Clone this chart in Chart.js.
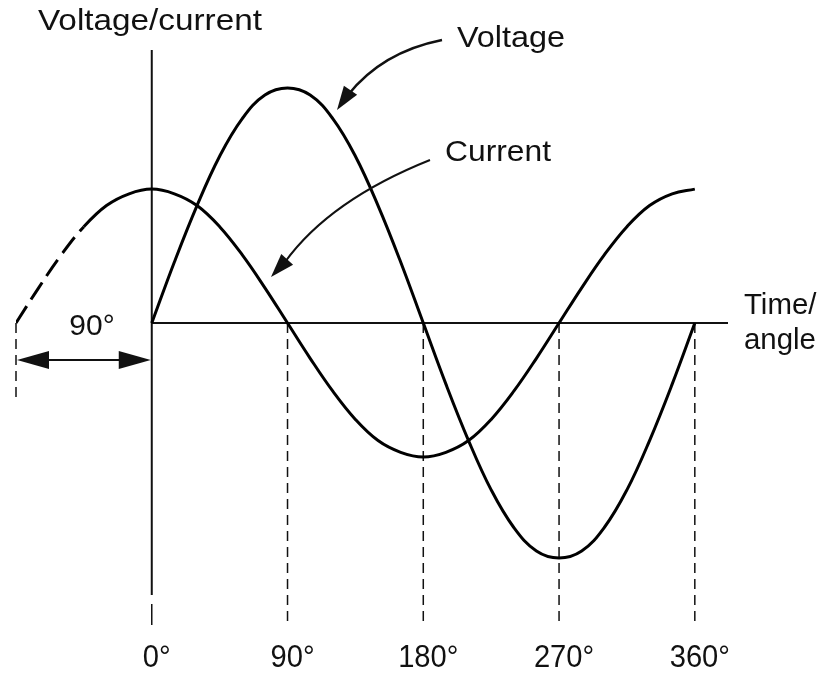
<!DOCTYPE html>
<html>
<head>
<meta charset="utf-8">
<script src="https://cdn.jsdelivr.net/npm/chart.js@4.4.0/dist/chart.umd.min.js"></script>
<style>
  html, body { margin: 0; padding: 0; background: #ffffff; }
  #wrap { width: 827px; height: 673px; }
</style>
</head>
<body>
<div id="wrap"><canvas id="c" width="827" height="673"></canvas></div>
<script>
// ---- Data (angle in degrees, amplitude in relative units) ----
const voltageAngles = [0, 15, 30, 45, 60, 75, 90, 105, 120, 135, 150, 165, 180,
                       195, 210, 225, 240, 255, 270, 285, 300, 315, 330, 345, 360];
const voltageValues = [0, 26, 50, 71, 87, 97, 100, 97, 87, 71, 50, 26, 0,
                       -26, -50, -71, -87, -97, -100, -97, -87, -71, -50, -26, 0];

const currentAngles = [-90, -75, -60, -45, -30, -15, 0, 15, 30, 45, 60, 75, 90,
                       105, 120, 135, 150, 165, 180, 195, 210, 225, 240, 255, 270,
                       285, 300, 315, 330, 345, 360];
const currentValues = [0, 15, 29, 41, 50, 55, 57, 55, 50, 41, 29, 15, 0,
                       -15, -29, -41, -50, -55, -57, -55, -50, -41, -29, -15, 0,
                       15, 29, 41, 50, 55, 57];

const tickAngles = [0, 90, 180, 270, 360];
const tickLabels = ['0°', '90°', '180°', '270°', '360°'];

const yAxisTitle = 'Voltage/current';
const xAxisTitle = ['Time/', 'angle'];
const voltageLabel = 'Voltage';
const currentLabel = 'Current';
const phaseLabel = '90°';
const dashedUntilAngle = -45;

// ---- helpers ----
const FONT = '"Liberation Sans", Arial, Helvetica, sans-serif';
const INK = '#111111';

function pairs(xs, ys) { return xs.map((x, i) => ({ x: x, y: ys[i] })); }

function arrowHead(ctx, tipX, tipY, fromX, fromY, len, halfW) {
  const a = Math.atan2(tipY - fromY, tipX - fromX);
  const bx = tipX - Math.cos(a) * len, by = tipY - Math.sin(a) * len;
  ctx.beginPath();
  ctx.moveTo(tipX, tipY);
  ctx.lineTo(bx + Math.sin(a) * halfW, by - Math.cos(a) * halfW);
  ctx.lineTo(bx - Math.sin(a) * halfW, by + Math.cos(a) * halfW);
  ctx.closePath();
  ctx.fill();
}

function stretchedText(ctx, text, x, y, sx, align) {
  ctx.save();
  ctx.translate(x, y);
  ctx.scale(sx, 1);
  ctx.textAlign = align;
  ctx.fillText(text, 0, 0);
  ctx.restore();
}

const decor = {
  id: 'decor',
  beforeDatasetsDraw(chart) {
    const ctx = chart.ctx;
    const xs = chart.scales.x, ys = chart.scales.y;
    const area = chart.chartArea;
    const x0 = xs.getPixelForValue(0);
    const y0 = ys.getPixelForValue(0);
    const bottom = area.bottom;
    ctx.save();
    ctx.strokeStyle = INK;
    ctx.lineCap = 'butt';

    // vertical axis (solid, with a dashed tail)
    ctx.lineWidth = 2;
    ctx.setLineDash([]);
    ctx.beginPath();
    ctx.moveTo(x0, area.top);
    ctx.lineTo(x0, bottom - 30);
    ctx.stroke();
    ctx.lineWidth = 1.5;
    ctx.beginPath();
    ctx.moveTo(x0, bottom - 21);
    ctx.lineTo(x0, bottom);
    ctx.stroke();

    // horizontal axis
    ctx.lineWidth = 2;
    ctx.beginPath();
    ctx.moveTo(x0, y0);
    ctx.lineTo(xs.getPixelForValue(xs.max), y0);
    ctx.stroke();

    // dashed drop lines
    ctx.lineWidth = 1.5;
    ctx.setLineDash([10, 6]);
    tickAngles.forEach(a => {
      if (a === 0) return;
      const px = xs.getPixelForValue(a);
      ctx.beginPath();
      ctx.moveTo(px, y0);
      ctx.lineTo(px, bottom);
      ctx.stroke();
    });
    // dashed line at -90°
    const xm = xs.getPixelForValue(-90);
    ctx.beginPath();
    ctx.moveTo(xm, y0);
    ctx.lineTo(xm, y0 + 74);
    ctx.stroke();
    ctx.restore();
  },
  afterDatasetsDraw(chart) {
    const ctx = chart.ctx;
    const xs = chart.scales.x, ys = chart.scales.y;
    const x0 = xs.getPixelForValue(0);
    const y0 = ys.getPixelForValue(0);
    const xm = xs.getPixelForValue(-90);
    ctx.save();
    ctx.fillStyle = INK;
    ctx.strokeStyle = INK;
    ctx.textBaseline = 'alphabetic';

    // texts
    ctx.font = '30px ' + FONT;
    stretchedText(ctx, yAxisTitle, 38, 30, 1.11, 'left');
    stretchedText(ctx, voltageLabel, 457, 47, 1.08, 'left');
    stretchedText(ctx, currentLabel, 445, 161, 1.06, 'left');
    stretchedText(ctx, xAxisTitle[0], 744, 314, 0.98, 'left');
    stretchedText(ctx, xAxisTitle[1], 744, 349, 0.98, 'left');
    stretchedText(ctx, phaseLabel, 92, 335, 1.0, 'center');
    ctx.font = '31px ' + FONT;
    tickAngles.forEach((a, i) => {
      stretchedText(ctx, tickLabels[i], xs.getPixelForValue(a) + 5, 667, 0.94, 'center');
    });

    // double arrow 90°
    const ya = y0 + 37;
    ctx.lineWidth = 2;
    ctx.setLineDash([]);
    ctx.beginPath();
    ctx.moveTo(xm + 20, ya);
    ctx.lineTo(x0 - 20, ya);
    ctx.stroke();
    arrowHead(ctx, xm + 1, ya, xm + 40, ya, 32, 9);
    arrowHead(ctx, x0 - 1, ya, x0 - 40, ya, 32, 9);

    // Voltage pointer
    ctx.lineWidth = 2.5;
    ctx.beginPath();
    ctx.moveTo(442, 40);
    ctx.quadraticCurveTo(382, 52, 348, 95);
    ctx.stroke();
    arrowHead(ctx, 337, 110, 352, 88, 24, 8);

    // Current pointer
    ctx.lineWidth = 2;
    ctx.beginPath();
    ctx.moveTo(430, 160);
    ctx.quadraticCurveTo(330, 200, 285, 262);
    ctx.stroke();
    arrowHead(ctx, 271, 277, 292, 254, 24, 8);

    ctx.restore();
  }
};

const chart = new Chart(document.getElementById('c'), {
  type: 'line',
  data: {
    datasets: [
      {
        label: voltageLabel,
        data: pairs(voltageAngles, voltageValues),
        borderColor: '#000',
        borderWidth: 3,
        pointRadius: 0,
        tension: 0.4,
        fill: false
      },
      {
        label: currentLabel,
        data: pairs(currentAngles, currentValues),
        borderColor: '#000',
        borderWidth: 3,
        pointRadius: 0,
        tension: 0.4,
        fill: false,
        segment: {
          borderDash: c => (c.p1.parsed.x <= dashedUntilAngle ? [20, 8] : undefined)
        }
      }
    ]
  },
  options: {
    responsive: false,
    animation: false,
    events: [],
    layout: { padding: { left: 16, right: 99, top: 50, bottom: 48 } },
    plugins: { legend: { display: false }, tooltip: { enabled: false }, title: { display: false } },
    scales: {
      x: { type: 'linear', min: -90, max: 382, display: false },
      y: { type: 'linear', min: -128.5, max: 116.2, display: false }
    }
  },
  plugins: [decor]
});
</script>
</body>
</html>
